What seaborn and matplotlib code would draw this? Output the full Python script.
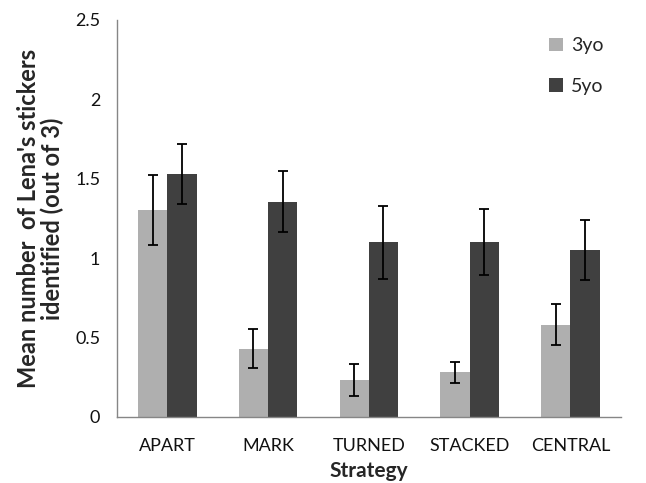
import pandas as pd
import matplotlib.pyplot as plt
import seaborn as sns

# ----- Data ----- #
strategies = ['APART', 'MARK', 'TURNED', 'STACKED', 'CENTRAL']
groups = ['3yo', '5yo']
mean_3yo = [1.30, 0.43, 0.23, 0.28, 0.58]
mean_5yo = [1.53, 1.355, 1.10, 1.10, 1.05]
err_3yo = [0.22, 0.12, 0.10, 0.066, 0.13]
err_5yo = [0.19, 0.19, 0.23, 0.21, 0.19]

df = pd.DataFrame({
    'Strategy': strategies * 2,
    'Group': [groups[0]] * 5 + [groups[1]] * 5,
    'Mean': mean_3yo + mean_5yo,
})

sns.set_style('white')
plt.rcParams['font.family'] = ['Lato', 'DejaVu Sans']

fig = plt.figure(figsize=(6.46, 4.83), dpi=100)
ax = fig.add_axes([0.181, 0.137, 0.78, 0.822])

bar_w = 0.58
sns.barplot(data=df, x='Strategy', y='Mean', hue='Group', order=strategies,
            hue_order=groups, palette=['#AFAFAF', '#404040'], width=bar_w,
            saturation=1, errorbar=None, ax=ax, edgecolor='none')

# error bars placed on the dodged bar centres
for i, s in enumerate(strategies):
    ax.errorbar(i - bar_w / 4, mean_3yo[i], yerr=err_3yo[i], fmt='none',
                ecolor='black', elinewidth=1.3, capsize=3.5, capthick=1.3)
    ax.errorbar(i + bar_w / 4, mean_5yo[i], yerr=err_5yo[i], fmt='none',
                ecolor='black', elinewidth=1.3, capsize=3.5, capthick=1.3)

ax.set_ylim(0, 2.5)
ax.set_xlim(-0.5, 4.5)
ax.set_yticks([0, 0.5, 1, 1.5, 2, 2.5])
ax.set_yticklabels(['0', '0.5', '1', '1.5', '2', '2.5'])

# x ticks sit on the category boundaries, labels in the middle
ax.set_xticks([i + 0.5 for i in range(-1, 5)])
ax.set_xticklabels([])
ax.set_xticks(range(5), minor=True)
ax.set_xticklabels(strategies, minor=True)
ax.tick_params(axis='x', which='minor', length=0, pad=15, labelsize=13, labelcolor='#111111')
ax.tick_params(axis='x', which='major', length=6, color='#868686', width=1, direction='out')
ax.tick_params(axis='y', length=5, color='#868686', width=1, direction='out', labelsize=13,
               pad=7, labelcolor='#111111')

for side in ['top', 'right']:
    ax.spines[side].set_visible(False)
for side in ['left', 'bottom']:
    ax.spines[side].set_color('#868686')
    ax.spines[side].set_linewidth(1)

ax.set_xlabel('Strategy', fontsize=15, fontweight='bold', labelpad=5)
ax.set_ylabel("Mean number  of Lena's stickers\nidentified (out of 3)", fontsize=17,
              fontweight='bold', labelpad=8, linespacing=1.0)

leg = ax.legend(loc='upper right', bbox_to_anchor=(1.0, 1.0), frameon=False,
                handlelength=0.7, handleheight=0.7, labelspacing=1.2,
                handletextpad=0.4, fontsize=14)

fig.savefig('out.png', dpi=100)
